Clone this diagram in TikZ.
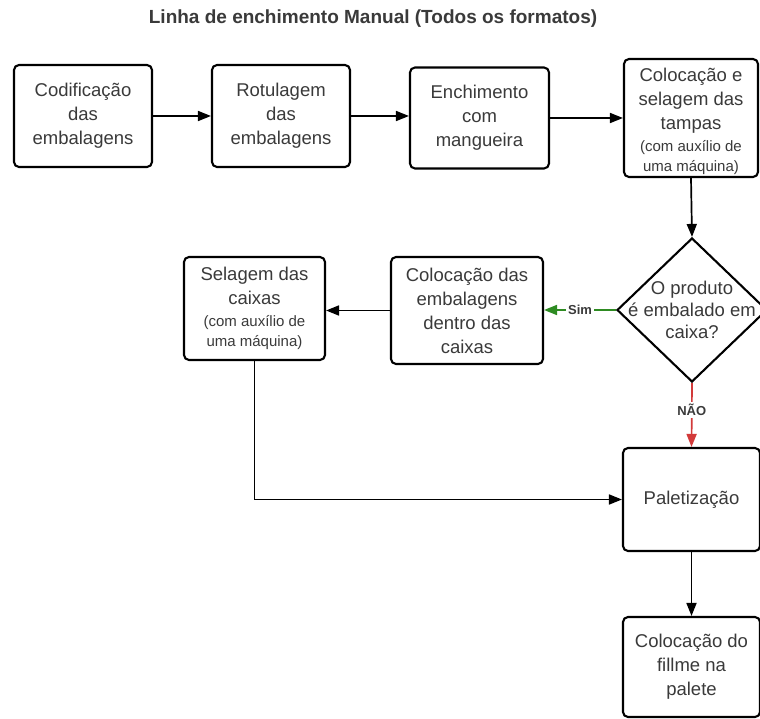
\documentclass[tikz,border=0pt]{standalone}
\usepackage{fontspec}
\setmainfont{Liberation Sans}
\usetikzlibrary{arrows.meta,shapes.geometric}
\definecolor{txt}{HTML}{3A3A3A}
\definecolor{simgreen}{HTML}{2E8B22}
\definecolor{naored}{HTML}{D23A3A}
\begin{document}
\begin{tikzpicture}[x=1pt,y=-1pt,
  stepbox/.style={draw=black,line width=2.1pt,rounded corners=5pt,fill=white,
    inner sep=0pt,align=center,text=txt,font=\fontsize{18.5}{24}\selectfont},
  boxtext/.style={inner sep=0pt,align=center,text=txt,font=\fontsize{18.5}{24}\selectfont},
  flow/.style={line width=1.7pt,-{Triangle[length=13pt,width=10pt]}},
  lbl/.style={fill=white,inner sep=2pt,text=txt,font=\bfseries\fontsize{13}{15}\selectfont}]
\useasboundingbox (0,0) rectangle (760,719);
\fill[white] (0,0) rectangle (760,719);

\node[font=\bfseries\fontsize{19}{22}\selectfont,text=txt] (title) at (373,19)
  {Linha de enchimento Manual (Todos os formatos)};

\node[stepbox,minimum width=138pt,minimum height=102pt] (cod) at (83,116)
  {Codificação\\das\\embalagens};
\node[stepbox,minimum width=138pt,minimum height=102pt] (rot) at (281,116)
  {Rotulagem\\das\\embalagens};
\node[stepbox,minimum width=139pt,minimum height=101pt] (enc) at (479.5,118)
  {Enchimento\\com\\mangueira};
\node[stepbox,minimum width=134pt,minimum height=118pt] (tam) at (691,118) {};
\node[boxtext] (tamtxt) at (691,121.5)
  {Colocação e\\selagem das\\tampas\\[-2pt]{\fontsize{15}{19}\selectfont (com auxílio de}\\[-4pt]{\fontsize{15}{19}\selectfont uma máquina)}};

\node[draw=black,line width=2.1pt,diamond,minimum width=150pt,minimum height=144pt,
  inner sep=0pt] (dec) at (692,310) {};
\node[align=center,text=txt,font=\fontsize{18.5}{22}\selectfont,inner sep=0pt]
  (dectxt) at (dec.center) {O produto\\é embalado em\\caixa?};

\node[stepbox,minimum width=152pt,minimum height=107pt] (cxs) at (467,310.5)
  {Colocação das\\embalagens\\dentro das\\caixas};
\node[stepbox,minimum width=141pt,minimum height=103pt] (sel) at (254.5,308.5)
  {Selagem das\\caixas\\[-2pt]{\fontsize{15}{19}\selectfont (com auxílio de}\\[-4pt]{\fontsize{15}{19}\selectfont uma máquina)}};

\node[stepbox,minimum width=137pt,minimum height=103pt] (pal) at (691.5,499.5)
  {Paletização};
\node[stepbox,minimum width=137pt,minimum height=100pt] (fil) at (691.5,667)
  {Colocação do\\fillme na\\palete};

\draw[flow] (cod.east) -- (rot.west);
\draw[flow] (rot.east) -- (rot.east -| enc.west);
\draw[flow] (enc.east) -- (enc.east -| tam.west);
\draw[flow] (tam.south) -- (dec.north);
\draw[flow,draw=simgreen,fill=simgreen] (dec.west) -- node[lbl]{Sim} (dec.west -| cxs.east);
\draw[flow] (cxs.west) -- (cxs.west -| sel.east);
\draw[flow,draw=naored,fill=naored] (dec.south) -- node[lbl,pos=0.42]{NÃO} (pal.north);
\draw[flow] (sel.south) |- (pal.west);
\draw[flow] (pal.south) -- (fil.north);
\end{tikzpicture}
\end{document}
